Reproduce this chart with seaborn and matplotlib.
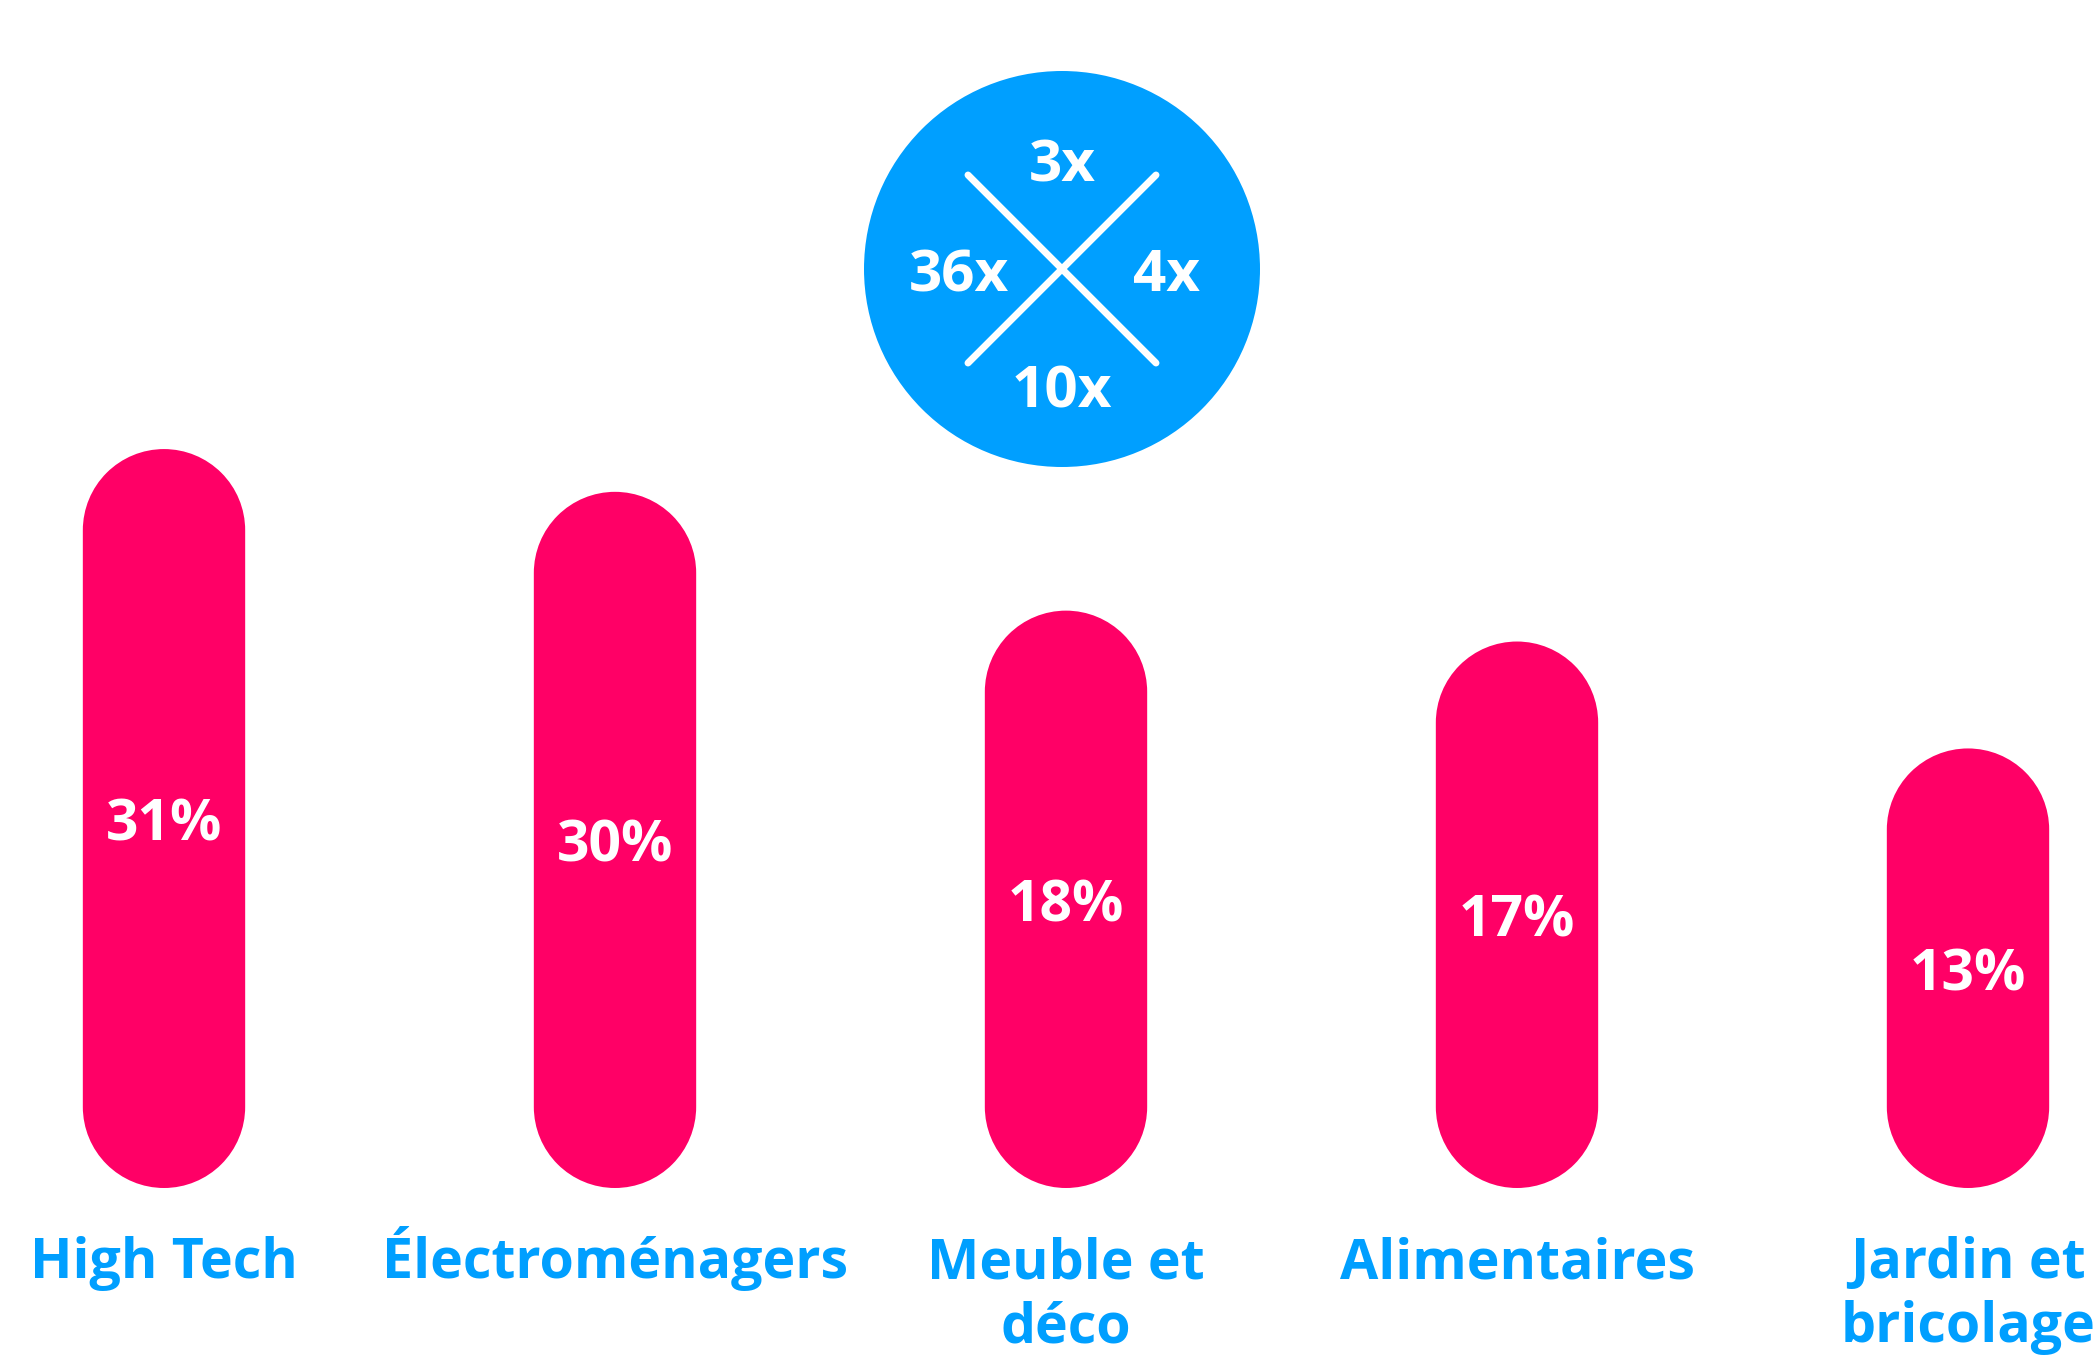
import numpy as np
import seaborn as sns
import matplotlib.pyplot as plt
from matplotlib.patches import Circle, PathPatch
from matplotlib.path import Path

categories = ['High Tech', 'Électroménagers', 'Meuble et\ndéco', 'Alimentaires', 'Jardin et\nbricolage']
shares = [31, 30, 18, 17, 13]
# visual bar length (the drawing is not proportional to the shares)
bar_length = [31.1, 29.3, 24.3, 23.0, 18.5]
# multipliers shown in the circle: top, right, bottom, left
multipliers = ['3x', '4x', '10x', '36x']

pink = '#FF0066'
blue = '#009FFF'

sns.set_style('white')
plt.rcParams['font.family'] = ['Open Sans', 'DejaVu Sans']

fig = plt.figure(figsize=(20.98, 13.7), dpi=100)
ax = fig.add_axes([0, 182 / 1370, 1, 1188 / 1370])

sns.barplot(x=categories, y=bar_length, color=pink, saturation=1, width=0.36, ax=ax)
ax.set_xlim(-164 / 451, 4 + 130 / 451)
ax.set_ylim(0, 50)

# Swap the plain rectangles for capsules
fig.canvas.draw()
bbox = ax.get_window_extent()
x_per_px = (ax.get_xlim()[1] - ax.get_xlim()[0]) / bbox.width
y_per_px = (ax.get_ylim()[1] - ax.get_ylim()[0]) / bbox.height
aspect = y_per_px / x_per_px


def capsule(x, w, h):
    rx = w / 2
    ry = rx * aspect
    cx = x + rx
    top = Path.arc(0, 180)
    bot = Path.arc(180, 360)
    tv = top.vertices * [rx, ry] + [cx, h - ry]
    bv = bot.vertices * [rx, ry] + [cx, ry]
    bc = bot.codes.copy()
    bc[0] = Path.LINETO
    verts = np.vstack([tv, bv, tv[:1]])
    codes = np.concatenate([top.codes, bc, [Path.CLOSEPOLY]])
    return Path(verts, codes)


for p in list(ax.patches):
    x, w, h = p.get_x(), p.get_width(), p.get_height()
    p.remove()
    ax.add_patch(PathPatch(capsule(x, w, h), facecolor=pink, edgecolor='none'))

# Percent labels in the middle of each bar
for i, (v, h) in enumerate(zip(shares, bar_length)):
    ax.text(i, h / 2, f'{v}%', color='white', fontsize=41, fontweight='bold',
            ha='center', va='center_baseline')

# Category labels, one line at a time so the baselines line up
for i, label in enumerate(categories):
    for k, line in enumerate(label.split('\n')):
        ax.annotate(line, xy=(i, 0), xytext=(0, -65 - 46 * k), textcoords='offset points',
                    color=blue, fontsize=40, fontweight='bold', ha='center', va='baseline',
                    annotation_clip=False)
ax.set_xticks([])
ax.set_yticks([])
ax.set_xlabel('')
sns.despine(ax=ax, left=True, bottom=True)

# Blue circle with the cross and multipliers
cax = fig.add_axes([(1062 - 200) / 2098, (1101 - 200) / 1370, 400 / 2098, 400 / 1370])
cax.set_xlim(-200, 200)
cax.set_ylim(-200, 200)
cax.set_aspect('equal')
cax.axis('off')
cax.add_patch(Circle((0, 0), 198, facecolor=blue, edgecolor='none'))
cax.plot([-94, 94], [94, -94], color='white', lw=5, solid_capstyle='round')
cax.plot([-94, 94], [-94, 94], color='white', lw=5, solid_capstyle='round')
spots = [(0, 110), (104, 0), (0, -116), (-103, 0)]
for label, (tx, ty) in zip(multipliers, spots):
    cax.text(tx, ty, label, color='white', fontsize=42, fontweight='bold',
             ha='center', va='center_baseline')

plt.savefig('out.png', dpi=100)
